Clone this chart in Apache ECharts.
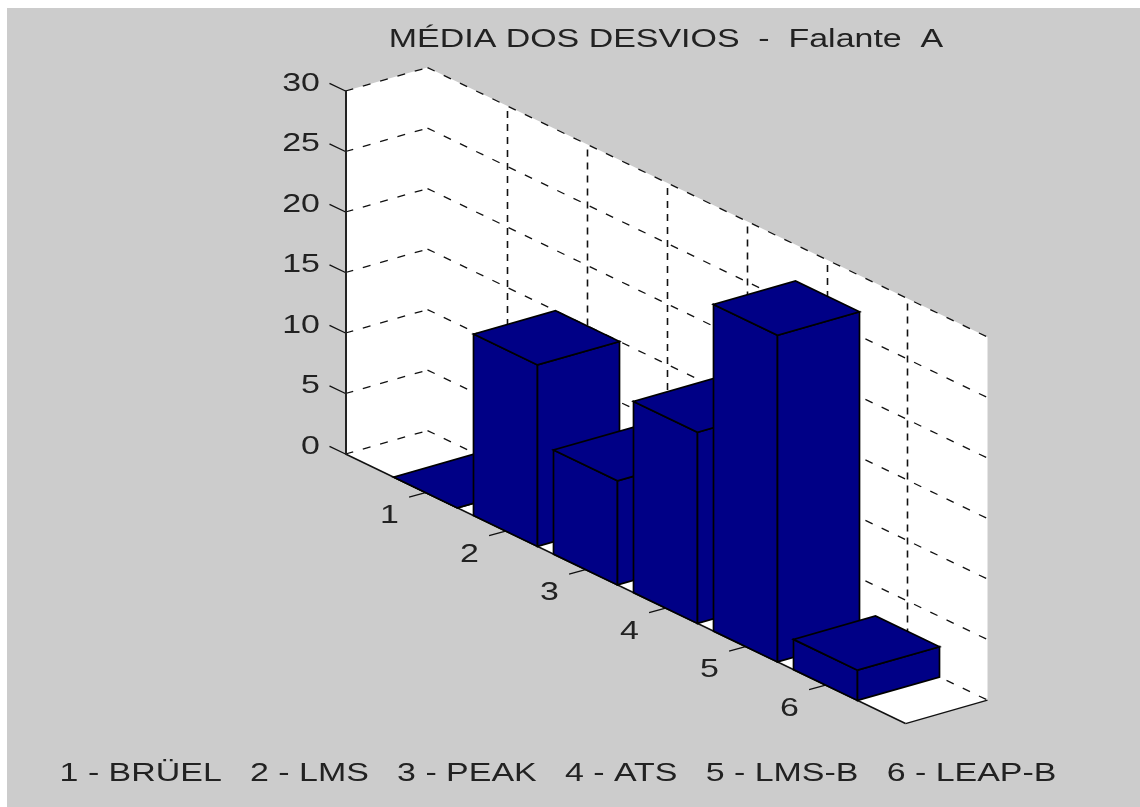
<!DOCTYPE html>
<html><head><meta charset="utf-8">
<style>html,body{margin:0;padding:0;background:#fff}#c{width:1140px;height:807px}</style>
<script src="https://cdn.jsdelivr.net/npm/echarts@6/dist/echarts.min.js"></script>
</head><body><div id="c"></div>
<script>
const titleText = 'MÉDIA DOS DESVIOS  -  Falante  A';
const legendText = '1 - BRÜEL   2 - LMS   3 - PEAK   4 - ATS   5 - LMS-B   6 - LEAP-B';
const categories = ['1','2','3','4','5','6'];
const values = [0, 15, 8.6, 15.8, 27, 2.5];
const valueTicks = [0,5,10,15,20,25,30];

const GRAY = '#cccccc', NAVY = '#000086', INK = '#222222';
const FONT = '26px "Liberation Sans"';
const STRETCH = 1.305;
const BAR_HALF = 0.4;
// oblique projection, in data units of the hidden grid axes
const SHEAR_I = 38.6 / 12.13;   // value units lost per category step
const DEPTH_I = 82 / 80;        // category units gained per depth step
const DEPTH_V = 23.5 / 12.13;   // value units gained per depth step

function projector(api){
  return (i, d, v) => api.coord([i + d*DEPTH_I, v - i*SHEAR_I + d*DEPTH_V]);
}
function line(p, q, dash, width){
  return {type:'line', shape:{x1:p[0],y1:p[1],x2:q[0],y2:q[1]},
    style:{stroke:'#111', lineWidth:width||1.3, lineDash:dash||null, fill:null}};
}
function poly(points, fill, stroke){
  return {type:'polygon', shape:{points}, style:{fill, stroke:stroke||null, lineWidth:1.7, lineJoin:'miter'}};
}

function renderBox(params, api){
  const P = projector(api), top = valueTicks[valueTicks.length-1], iMax = categories.length+1;
  const kids = [poly([P(0,0,top),P(0,1,top),P(iMax,1,top),P(iMax,1,0),P(iMax,0,0),P(0,0,0)],'#fff')];
  const diag = [8,10], vert = [7,6];
  valueTicks.forEach(v=>{
    kids.push(line(P(0,0,v),P(0,1,v),diag));
    kids.push(line(P(0,1,v),P(iMax,1,v),diag));
    kids.push(line(P(-0.2,0,v),P(0,0,v)));
    const t = P(-0.32,0,v-0.42);
    kids.push({type:'text', x:t[0], y:t[1], scaleX:STRETCH,
      style:{text:String(v), font:FONT, fill:INK, align:'right', verticalAlign:'middle'}});
  });
  categories.forEach(c=>{
    const i = +c;
    kids.push(line(P(i,1,0),P(i,1,top),vert,1.6));
    kids.push(line(P(i,0,0),P(i,-0.2,0)));
    const l = P(i,-0.44,-1.1);
    kids.push({type:'text', x:l[0], y:l[1], scaleX:STRETCH,
      style:{text:c, font:FONT, fill:INK, align:'center', verticalAlign:'middle'}});
  });
  kids.push(line(P(0,0,0),P(iMax,0,0),null,1.5));
  kids.push(line(P(iMax,0,0),P(iMax,1,0),null,1.3));
  return {type:'group', children:kids};
}

function renderBar(params, api){
  const P = projector(api), i = api.value(0), v = api.value(1);
  const a = i-BAR_HALF, b = i+BAR_HALF;
  return {type:'group', children:[
    poly([P(a,0,0),P(b,0,0),P(b,0,v),P(a,0,v)],NAVY,'#000'),
    poly([P(b,0,0),P(b,1,0),P(b,1,v),P(b,0,v)],NAVY,'#000'),
    poly([P(a,0,v),P(b,0,v),P(b,1,v),P(a,1,v)],NAVY,'#000')
  ]};
}

const chart = echarts.init(document.getElementById('c'), null, {renderer:'canvas'});
chart.setOption({
  animation:false,
  backgroundColor:'#fff',
  graphic:{elements:[
    {type:'rect', z:-10, silent:true, shape:{x:7,y:8,width:1133,height:799}, style:{fill:GRAY}},
    {type:'text', z:10, x:666, y:40, scaleX:STRETCH, silent:true,
      style:{text:titleText, font:FONT, fill:INK, align:'center', verticalAlign:'middle'}},
    {type:'text', z:10, x:558, y:774, scaleX:STRETCH, silent:true,
      style:{text:legendText, font:FONT, fill:INK, align:'center', verticalAlign:'middle'}}
  ]},
  grid:{left:345.5, top:91, width:560, height:363, containLabel:false},
  xAxis:{type:'value', min:0, max:categories.length+1, show:false},
  yAxis:{type:'value', min:0, max:30, interval:5, position:'left',
    axisLine:{show:true, onZero:false, lineStyle:{color:'#222', width:2}},
    axisTick:{show:false}, axisLabel:{show:false}, splitLine:{show:false}, z:5},
  series:[
    {type:'custom', silent:true, z:2, renderItem:renderBox, data:[[0,0]], encode:{x:0,y:1}},
    {type:'custom', silent:true, z:3, renderItem:renderBar,
      data:categories.map((c,k)=>[+c, values[k]]), encode:{x:0,y:1}}
  ]
});
</script></body></html>
